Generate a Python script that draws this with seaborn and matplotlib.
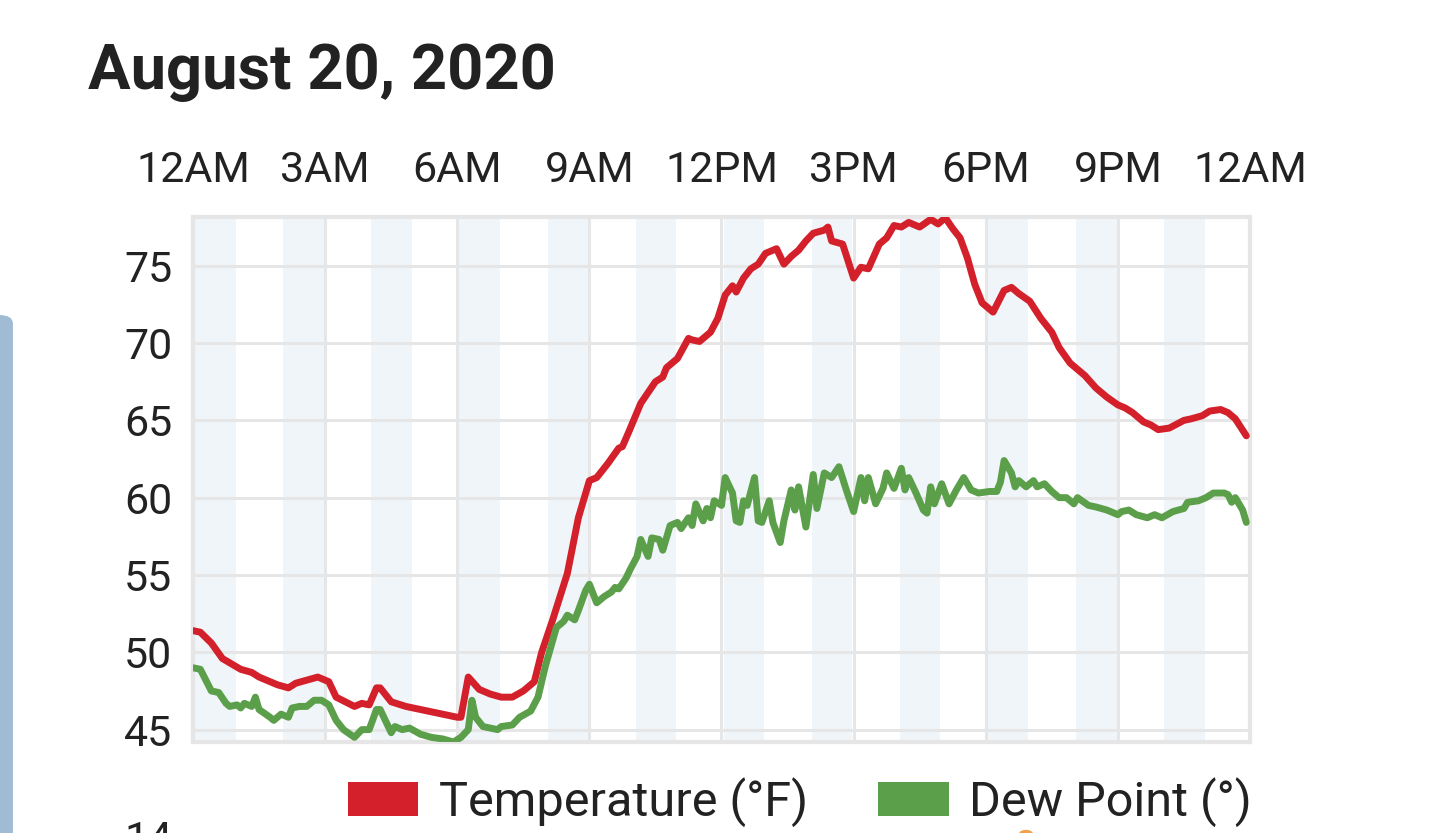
import numpy as np
import pandas as pd
import matplotlib
matplotlib.use('Agg')
import matplotlib.pyplot as plt
import seaborn as sns
from matplotlib.patches import Patch, FancyBboxPatch, Circle

# minutes after midnight and readings
temp_min = [0, 10, 25, 40, 65, 80, 90, 115, 130, 140, 155, 170, 185, 195, 220, 230, 240, 250, 255, 270,
            290, 310, 340, 360, 365, 375, 390, 405, 420, 435, 450, 465, 475, 490, 510, 525, 540, 550, 565,
            580, 585, 595, 610, 620, 630, 640, 645, 660, 675, 680, 690, 705, 715, 725, 735, 740, 750, 760,
            770, 780, 795, 805, 815, 825, 835, 845, 860, 865, 870, 885, 900, 910, 920, 935, 945, 955, 965,
            975, 990, 1005, 1015, 1025, 1035, 1045, 1055, 1065, 1075, 1090, 1105, 1115, 1125, 1140, 1155,
            1170, 1180, 1195, 1215, 1230, 1245, 1260, 1270, 1280, 1295, 1305, 1315, 1330, 1350, 1360, 1375,
            1385, 1400, 1410, 1420, 1435]
temp_f = [51.4, 51.3, 50.6, 49.6, 48.9, 48.7, 48.4, 47.9, 47.7, 48.0, 48.2, 48.4, 48.1, 47.1, 46.5, 46.7,
          46.6, 47.7, 47.7, 46.8, 46.5, 46.3, 46.0, 45.8, 45.8, 48.4, 47.6, 47.3, 47.1, 47.1, 47.5, 48.1,
          50.0, 52.1, 55.1, 58.7, 61.1, 61.3, 62.2, 63.2, 63.3, 64.4, 66.1, 66.8, 67.5, 67.8, 68.4, 69.0,
          70.3, 70.2, 70.1, 70.7, 71.6, 73.1, 73.7, 73.3, 74.2, 74.8, 75.1, 75.8, 76.1, 75.1, 75.6, 76.0,
          76.6, 77.1, 77.3, 77.5, 76.6, 76.4, 74.2, 74.9, 74.8, 76.4, 76.8, 77.6, 77.5, 77.8, 77.5, 78.0,
          77.7, 78.1, 77.4, 76.8, 75.5, 73.8, 72.6, 72.0, 73.4, 73.6, 73.2, 72.7, 71.6, 70.7, 69.7, 68.7,
          67.9, 67.1, 66.5, 66.0, 65.8, 65.5, 64.9, 64.7, 64.4, 64.5, 65.0, 65.1, 65.3, 65.6, 65.7, 65.5,
          65.1, 64.0]

dew_min = [0, 10, 25, 35, 45, 50, 60, 65, 70, 80, 85, 90, 105, 110, 120, 130, 135, 145, 155, 165, 175,
           185, 195, 205, 220, 230, 240, 250, 255, 270, 275, 285, 295, 310, 325, 340, 355, 365, 375, 380,
           385, 395, 415, 420, 435, 445, 460, 470, 480, 495, 505, 510, 520, 525, 535, 540, 550, 560, 570,
           575, 580, 590, 595, 605, 610, 620, 625, 635, 640, 650, 660, 665, 675, 680, 685, 695, 700, 705,
           710, 720, 725, 735, 740, 745, 750, 755, 765, 770, 775, 785, 790, 800, 805, 815, 820, 825, 835,
           845, 850, 860, 870, 880, 890, 900, 910, 915, 920, 930, 940, 945, 955, 965, 970, 975, 985, 995,
           1000, 1005, 1010, 1020, 1030, 1040, 1050, 1060, 1070, 1085, 1095, 1100, 1105, 1115, 1120, 1125,
           1135, 1145, 1150, 1160, 1170, 1180, 1190, 1200, 1205, 1220, 1230, 1245, 1260, 1265, 1275, 1285,
           1300, 1310, 1320, 1335, 1350, 1355, 1370, 1380, 1390, 1405, 1410, 1415, 1420, 1430, 1435]
dew_f = [49.0, 48.9, 47.5, 47.4, 46.7, 46.5, 46.6, 46.4, 46.7, 46.5, 47.1, 46.3, 45.8, 45.6, 46.0, 45.8,
         46.4, 46.5, 46.5, 46.9, 46.9, 46.6, 45.6, 45.0, 44.5, 45.0, 45.0, 46.3, 46.3, 44.8, 45.2, 45.0,
         45.1, 44.7, 44.5, 44.4, 44.2, 44.5, 45.0, 46.9, 45.8, 45.2, 45.0, 45.2, 45.3, 45.8, 46.2, 47.1,
         49.1, 51.6, 52.0, 52.4, 52.1, 52.7, 54.0, 54.4, 53.2, 53.6, 53.9, 54.2, 54.1, 54.8, 55.3, 56.2,
         57.3, 56.2, 57.4, 57.3, 56.6, 58.2, 58.4, 58.0, 58.7, 58.2, 59.6, 58.5, 59.3, 58.7, 59.8, 59.5,
         61.3, 60.3, 58.5, 58.4, 59.8, 59.5, 61.3, 58.5, 58.4, 59.8, 58.4, 57.1, 58.5, 60.5, 59.2, 60.7,
         58.1, 61.5, 59.3, 61.6, 61.3, 62.0, 60.5, 59.1, 61.3, 59.8, 61.3, 59.6, 60.6, 61.6, 60.6, 61.9,
         60.5, 61.3, 60.3, 59.2, 59.0, 60.7, 59.6, 60.9, 59.6, 60.5, 61.3, 60.5, 60.3, 60.4, 60.4, 61.0,
         62.4, 61.6, 60.7, 61.1, 60.7, 61.1, 60.7, 60.9, 60.4, 60.0, 60.0, 59.6, 60.0, 59.5, 59.4, 59.2,
         58.9, 59.1, 59.2, 58.9, 58.7, 58.9, 58.7, 59.1, 59.3, 59.7, 59.8, 60.0, 60.3, 60.3, 60.2, 59.7,
         60.0, 59.2, 58.4]

hour_ticks = [0, 3, 6, 9, 12, 15, 18, 21, 24]
hour_labels = ['12AM', '3AM', '6AM', '9AM', '12PM', '3PM', '6PM', '9PM', '12AM']
y_ticks = [45, 50, 55, 60, 65, 70, 75]

temp_color = '#d3202a'
dew_color = '#5b9f4a'
grid_color = '#e6e6e6'
band_color = '#f0f5fa'
text_color = '#222222'

sns.set_theme(style='white')
plt.rcParams['font.family'] = ['Roboto', 'DejaVu Sans']

df = pd.concat([
    pd.DataFrame({'hour': np.array(temp_min) / 60, 'value': temp_f, 'series': 'Temperature (°F)'}),
    pd.DataFrame({'hour': np.array(dew_min) / 60, 'value': dew_f, 'series': 'Dew Point (°)'}),
])

fig = plt.figure(figsize=(14.34, 8.33), dpi=100)
ax = fig.add_axes([193 / 1434, 1 - 742 / 833, (1250 - 193) / 1434, (742 - 217) / 833])

# alternate hour shading
for k in range(12):
    ax.axvspan(2 * k + 0.05, 2 * k + 0.97, color=band_color, lw=0, zorder=0)

sns.lineplot(data=df, x='hour', y='value', hue='series',
             palette={'Temperature (°F)': temp_color, 'Dew Point (°)': dew_color},
             estimator=None, sort=False, legend=False, ax=ax, zorder=3)
for ln in ax.lines:
    ln.set_linewidth(5.0)
    ln.set_solid_joinstyle('round')

ax.set_xlim(0, 24)
ax.set_ylim(44.2, 78.15)
ax.set_xticks(hour_ticks)
ax.set_xticklabels(hour_labels)
ax.set_yticks(y_ticks)
ax.set_xlabel('')
ax.set_ylabel('')
ax.grid(True, color=grid_color, lw=2.2, zorder=1)
ax.set_axisbelow(True)
for sp in ax.spines.values():
    sp.set_visible(True)
    sp.set_color(grid_color)
    sp.set_linewidth(3)
ax.tick_params(axis='x', top=True, labeltop=True, bottom=False, labelbottom=False,
               length=0, pad=19, labelsize=31, labelcolor=text_color)
ax.tick_params(axis='y', left=False, length=0, pad=15, labelsize=31, labelcolor=text_color)

fig.text(88 / 1434, 1 - 89 / 833, 'August 20, 2020', fontsize=45.5, fontweight='bold',
         color=text_color, va='baseline', ha='left')

handles = [Patch(facecolor=temp_color, edgecolor='none', label='Temperature (°F)'),
           Patch(facecolor=dew_color, edgecolor='none', label='Dew Point (°)')]
fig.legend(handles=handles, loc='center', bbox_to_anchor=(800 / 1434, 1 - 802 / 833), ncol=2,
           frameon=False, fontsize=35, handlelength=1.45, handleheight=0.72, handletextpad=0.42,
           columnspacing=1.45, labelcolor=text_color)

# side panel and cut-off content from the page
fig.patches.append(FancyBboxPatch((-0.02, -0.05), 0.029, 1 - 315 / 833 + 0.05, boxstyle='round,pad=0,rounding_size=0.01',
                                  transform=fig.transFigure, facecolor='#a0bbd4', edgecolor='none'))
fig.text(124 / 1434, 1 - 820 / 833, '14', fontsize=31, color=text_color, va='top', ha='left')
fig.patches.append(Circle((1026 / 1434, 1 - 834 / 833), 0.005, transform=fig.transFigure,
                          facecolor='#f0a050', edgecolor='none'))

fig.savefig('out.png', dpi=100)
